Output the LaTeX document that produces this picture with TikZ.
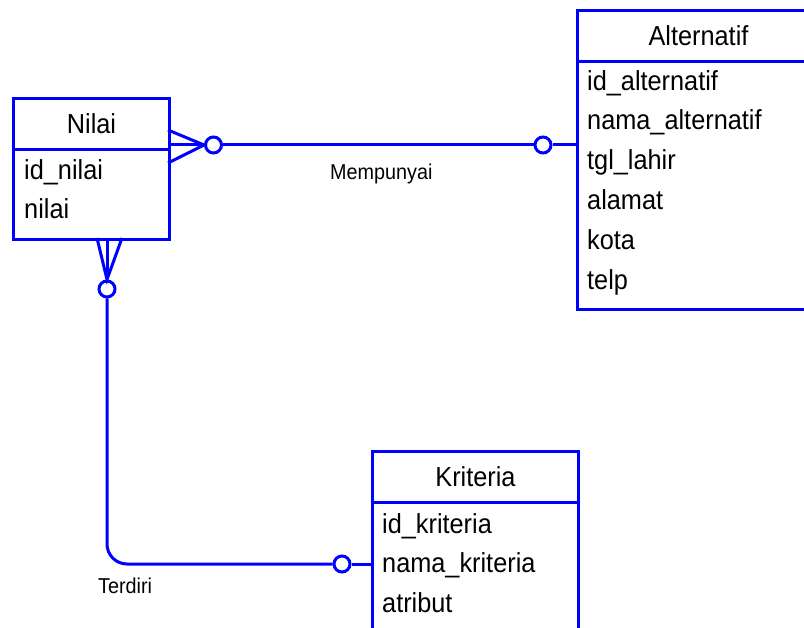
\documentclass[tikz,border=0pt]{standalone}
\usepackage{fontspec}
\setmainfont{Liberation Sans}[FakeStretch=0.92]
\definecolor{erblue}{RGB}{0,0,255}
\begin{document}
\begin{tikzpicture}[x=1pt,y=-1pt,
  ent/.style={draw=erblue, line width=3pt, anchor=north west, inner sep=0pt, font=\fontsize{27.5}{30}\selectfont},
  attr/.style={anchor=base west, inner sep=0pt, font=\fontsize{27.5}{30}\selectfont},
  lbl/.style={anchor=base west, inner sep=0pt, font=\fontsize{21.5}{24}\selectfont},
  rel/.style={draw=erblue, line width=3pt},
  opt/.style={circle, draw=erblue, line width=3pt, minimum size=16pt, inner sep=0pt, fill=white}]
\useasboundingbox (0,0) rectangle (804,628);
\clip (0,0) rectangle (804,628);
\fill[white] (0,0) rectangle (804,628);

% Nilai
\node[ent, minimum width=156pt, minimum height=51pt] (nilaiH) at (12,97) {Nilai};
\node[ent, minimum width=156pt, minimum height=90pt] (nilaiB) at (12,148) {};
\node[attr] (n1) at (24,180) {id\_nilai};
\node[attr] (n2) at (24,219) {nilai};

% Alternatif
\node[ent, minimum width=232pt, minimum height=51pt] (altH) at (576,9) {\hspace*{-10pt}Alternatif\hspace*{-20pt}};
\node[ent, minimum width=232pt, minimum height=248pt] (altB) at (576,60) {};
\node[attr] (a1) at (587,91) {id\_alternatif};
\node[attr] (a2) at (587,130) {nama\_alternatif};
\node[attr] (a3) at (587,170) {tgl\_lahir};
\node[attr] (a4) at (587,210) {alamat};
\node[attr] (a5) at (587,250) {kota};
\node[attr] (a6) at (587,290) {telp};

% Kriteria
\node[ent, minimum width=206pt, minimum height=51pt] (kriH) at (371,450) {Kriteria};
\node[ent, minimum width=206pt, minimum height=150pt] (kriB) at (371,501) {};
\node[attr] (k1) at (382,533) {id\_kriteria};
\node[attr] (k2) at (382,572) {nama\_kriteria};
\node[attr] (k3) at (382,612) {atribut};

% relationship Mempunyai
\node[opt] (o1) at (213.5,145) {};
\node[opt] (o2) at (543,145) {};
\coordinate (f1) at (168,130);
\coordinate (f2) at (168,145);
\coordinate (f3) at (168,163);
\coordinate (ae) at (576,145);
\draw[rel] (f1) -- (o1.west) -- (f3);
\draw[rel] (f2) -- (o1.west);
\draw[rel] (o1.east) -- (o2.west);
\draw[rel] (o2.east) -- (ae);
\node[lbl] (mp) at (330,180) {Mempunyai};

% relationship Terdiri
\node[opt] (o3) at (107,289) {};
\node[opt] (o4) at (342,564) {};
\coordinate (g1) at (97,238);
\coordinate (g2) at (107,238);
\coordinate (g3) at (122,238);
\coordinate (bend) at (108,564);
\coordinate (ke) at (371,564);
\draw[rel] (g1) -- (o3.north) -- (g3);
\draw[rel] (g2) -- (o3.north);
\draw[rel, rounded corners=20pt] (o3.south) -- (o3.south |- bend) -- (o4.west);
\draw[rel] (o4.east) -- (ke);
\node[lbl] (td) at (98,593) {Terdiri};
\end{tikzpicture}
\end{document}
